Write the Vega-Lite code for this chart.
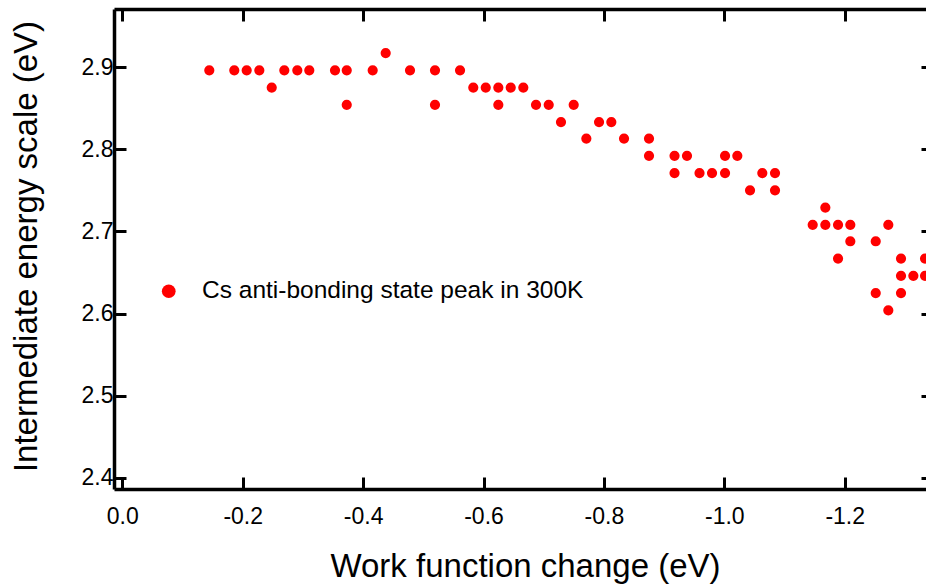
{
  "$schema": "https://vega.github.io/schema/vega-lite/v6.json",
  "width": 812,
  "height": 480,
  "autosize": {"type": "none"},
  "padding": {"left": 114, "top": 9, "right": 0, "bottom": 97},
  "background": "white",
  "config": {
    "view": {"stroke": null},
    "font": "Liberation Sans",
    "axis": {
      "grid": false,
      "domainColor": "black",
      "domainWidth": 3.5,
      "tickColor": "black",
      "tickWidth": 3,
      "tickSize": -12,
      "labelColor": "black",
      "labelFontSize": 23,
      "labelFont": "Liberation Sans",
      "titleColor": "black",
      "titleFont": "Liberation Sans",
      "titleFontSize": 33,
      "titleFontWeight": "normal"
    }
  },
  "data": {
    "values": [
      {"wf": -0.1445, "e": 2.896, "series": "Cs anti-bonding state peak in 300K"},
      {"wf": -0.186, "e": 2.896, "series": "Cs anti-bonding state peak in 300K"},
      {"wf": -0.2066, "e": 2.896, "series": "Cs anti-bonding state peak in 300K"},
      {"wf": -0.2276, "e": 2.896, "series": "Cs anti-bonding state peak in 300K"},
      {"wf": -0.2482, "e": 2.875, "series": "Cs anti-bonding state peak in 300K"},
      {"wf": -0.2691, "e": 2.896, "series": "Cs anti-bonding state peak in 300K"},
      {"wf": -0.2907, "e": 2.896, "series": "Cs anti-bonding state peak in 300K"},
      {"wf": -0.3106, "e": 2.896, "series": "Cs anti-bonding state peak in 300K"},
      {"wf": -0.3533, "e": 2.896, "series": "Cs anti-bonding state peak in 300K"},
      {"wf": -0.3728, "e": 2.896, "series": "Cs anti-bonding state peak in 300K"},
      {"wf": -0.3728, "e": 2.854, "series": "Cs anti-bonding state peak in 300K"},
      {"wf": -0.4159, "e": 2.896, "series": "Cs anti-bonding state peak in 300K"},
      {"wf": -0.4375, "e": 2.917, "series": "Cs anti-bonding state peak in 300K"},
      {"wf": -0.4779, "e": 2.896, "series": "Cs anti-bonding state peak in 300K"},
      {"wf": -0.5194, "e": 2.896, "series": "Cs anti-bonding state peak in 300K"},
      {"wf": -0.5194, "e": 2.854, "series": "Cs anti-bonding state peak in 300K"},
      {"wf": -0.561, "e": 2.896, "series": "Cs anti-bonding state peak in 300K"},
      {"wf": -0.583, "e": 2.875, "series": "Cs anti-bonding state peak in 300K"},
      {"wf": -0.6037, "e": 2.875, "series": "Cs anti-bonding state peak in 300K"},
      {"wf": -0.6246, "e": 2.875, "series": "Cs anti-bonding state peak in 300K"},
      {"wf": -0.6246, "e": 2.854, "series": "Cs anti-bonding state peak in 300K"},
      {"wf": -0.6452, "e": 2.875, "series": "Cs anti-bonding state peak in 300K"},
      {"wf": -0.6661, "e": 2.875, "series": "Cs anti-bonding state peak in 300K"},
      {"wf": -0.6872, "e": 2.854, "series": "Cs anti-bonding state peak in 300K"},
      {"wf": -0.7083, "e": 2.854, "series": "Cs anti-bonding state peak in 300K"},
      {"wf": -0.7287, "e": 2.833, "series": "Cs anti-bonding state peak in 300K"},
      {"wf": -0.7498, "e": 2.854, "series": "Cs anti-bonding state peak in 300K"},
      {"wf": -0.7708, "e": 2.813, "series": "Cs anti-bonding state peak in 300K"},
      {"wf": -0.7919, "e": 2.833, "series": "Cs anti-bonding state peak in 300K"},
      {"wf": -0.8123, "e": 2.833, "series": "Cs anti-bonding state peak in 300K"},
      {"wf": -0.8334, "e": 2.813, "series": "Cs anti-bonding state peak in 300K"},
      {"wf": -0.8749, "e": 2.813, "series": "Cs anti-bonding state peak in 300K"},
      {"wf": -0.8749, "e": 2.792, "series": "Cs anti-bonding state peak in 300K"},
      {"wf": -0.9173, "e": 2.792, "series": "Cs anti-bonding state peak in 300K"},
      {"wf": -0.9173, "e": 2.771, "series": "Cs anti-bonding state peak in 300K"},
      {"wf": -0.938, "e": 2.792, "series": "Cs anti-bonding state peak in 300K"},
      {"wf": -0.9588, "e": 2.771, "series": "Cs anti-bonding state peak in 300K"},
      {"wf": -0.9796, "e": 2.771, "series": "Cs anti-bonding state peak in 300K"},
      {"wf": -1.0012, "e": 2.792, "series": "Cs anti-bonding state peak in 300K"},
      {"wf": -1.0012, "e": 2.771, "series": "Cs anti-bonding state peak in 300K"},
      {"wf": -1.0216, "e": 2.792, "series": "Cs anti-bonding state peak in 300K"},
      {"wf": -1.0427, "e": 2.75, "series": "Cs anti-bonding state peak in 300K"},
      {"wf": -1.0631, "e": 2.771, "series": "Cs anti-bonding state peak in 300K"},
      {"wf": -1.0842, "e": 2.771, "series": "Cs anti-bonding state peak in 300K"},
      {"wf": -1.0842, "e": 2.75, "series": "Cs anti-bonding state peak in 300K"},
      {"wf": -1.1468, "e": 2.708, "series": "Cs anti-bonding state peak in 300K"},
      {"wf": -1.1678, "e": 2.729, "series": "Cs anti-bonding state peak in 300K"},
      {"wf": -1.1678, "e": 2.708, "series": "Cs anti-bonding state peak in 300K"},
      {"wf": -1.1889, "e": 2.708, "series": "Cs anti-bonding state peak in 300K"},
      {"wf": -1.1889, "e": 2.667, "series": "Cs anti-bonding state peak in 300K"},
      {"wf": -1.2093, "e": 2.708, "series": "Cs anti-bonding state peak in 300K"},
      {"wf": -1.2093, "e": 2.688, "series": "Cs anti-bonding state peak in 300K"},
      {"wf": -1.2515, "e": 2.688, "series": "Cs anti-bonding state peak in 300K"},
      {"wf": -1.2515, "e": 2.625, "series": "Cs anti-bonding state peak in 300K"},
      {"wf": -1.2724, "e": 2.708, "series": "Cs anti-bonding state peak in 300K"},
      {"wf": -1.2724, "e": 2.604, "series": "Cs anti-bonding state peak in 300K"},
      {"wf": -1.2935, "e": 2.667, "series": "Cs anti-bonding state peak in 300K"},
      {"wf": -1.2935, "e": 2.646, "series": "Cs anti-bonding state peak in 300K"},
      {"wf": -1.2935, "e": 2.625, "series": "Cs anti-bonding state peak in 300K"},
      {"wf": -1.314, "e": 2.646, "series": "Cs anti-bonding state peak in 300K"},
      {"wf": -1.3334, "e": 2.667, "series": "Cs anti-bonding state peak in 300K"},
      {"wf": -1.3334, "e": 2.646, "series": "Cs anti-bonding state peak in 300K"}
    ]
  },
  "layer": [
    {
      "mark": {"type": "point", "opacity": 0},
      "encoding": {
        "x": {
          "field": "wf", "type": "quantitative",
          "scale": {"domain": [0.0138, -1.335], "nice": false, "zero": false},
          "axis": {"orient": "top", "title": null, "labels": false, "values": [0, -0.2, -0.4, -0.6, -0.8, -1.0, -1.2], "tickSize": -12}
        },
        "y": {
          "field": "e", "type": "quantitative",
          "scale": {"domain": [2.3866, 2.9706], "nice": false, "zero": false},
          "axis": {"orient": "right", "title": null, "labels": false, "domain": false, "values": [2.4, 2.5, 2.6, 2.7, 2.8, 2.9], "tickSize": -5}
        }
      }
    },
    {
      "mark": {"type": "circle", "size": 104, "opacity": 1},
      "encoding": {
        "x": {
          "field": "wf", "type": "quantitative",
          "axis": {
            "orient": "bottom",
            "title": "Work function change (eV)",
            "values": [0, -0.2, -0.4, -0.6, -0.8, -1.0, -1.2],
            "labelExpr": "replace(format(datum.value, '.1f'), '\u2212', '-')",
            "labelPadding": 28,
            "titlePadding": 22,
            "titleX": 411
          }
        },
        "y": {
          "field": "e", "type": "quantitative",
          "axis": {
            "orient": "left",
            "title": "Intermediate energy scale (eV)",
            "values": [2.4, 2.5, 2.6, 2.7, 2.8, 2.9],
            "labelExpr": "format(datum.value, '.1f')",
            "labelPadding": 13,
            "titlePadding": 38,
            "titleY": 237
          }
        },
        "color": {
          "field": "series", "type": "nominal",
          "scale": {"range": ["#ff0000"]},
          "legend": {
            "orient": "none",
            "legendX": 42.5,
            "legendY": 270,
            "title": null,
            "padding": 0,
            "symbolType": "circle",
            "symbolSize": 189,
            "symbolStrokeWidth": 0,
            "symbolOpacity": 1,
            "labelFontSize": 24.5,
            "labelFont": "Liberation Sans",
            "labelColor": "black",
            "labelOffset": 21,
            "labelLimit": 0
          }
        }
      }
    }
  ],
  "resolve": {"axis": {"x": "independent", "y": "independent"}}
}
